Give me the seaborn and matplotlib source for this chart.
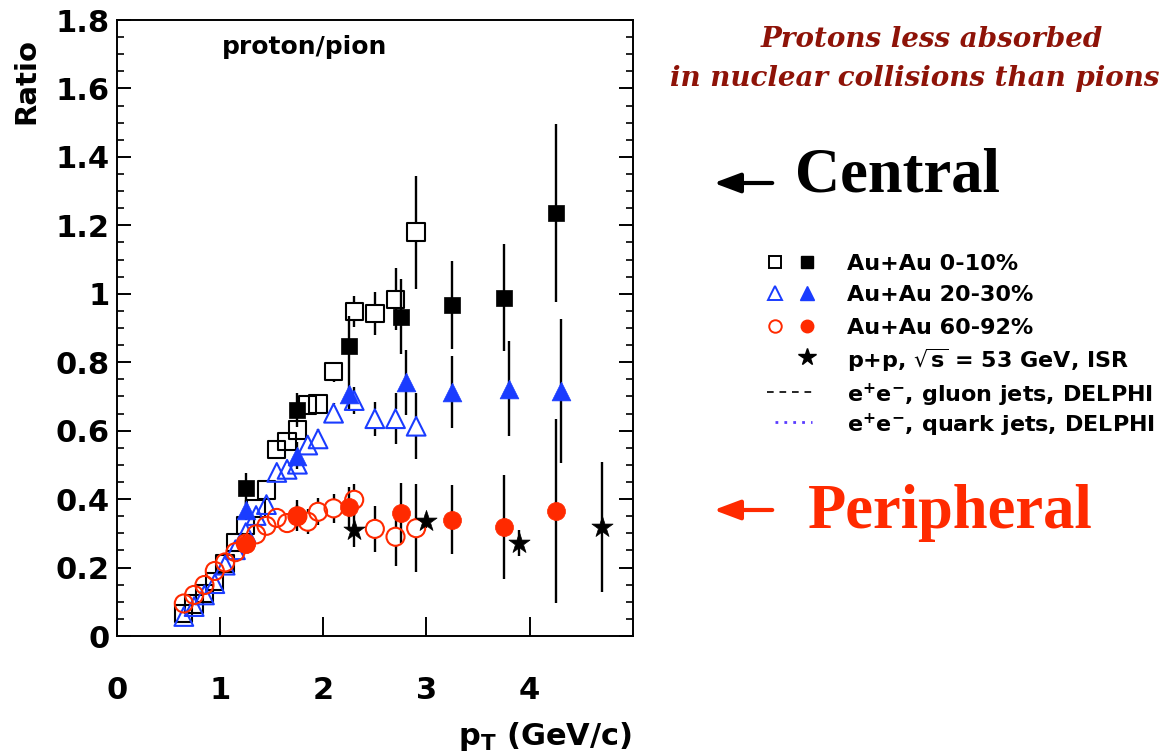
import numpy as np
import pandas as pd
import matplotlib
matplotlib.use("Agg")
import matplotlib.pyplot as plt
import seaborn as sns
from matplotlib.lines import Line2D

# ---------------- data ----------------
pt_open = [0.65, 0.75, 0.85, 0.95, 1.05, 1.15, 1.25, 1.35, 1.45, 1.55,
           1.65, 1.75, 1.85, 1.95, 2.1, 2.3, 2.5, 2.7, 2.9]

c0_open_y = [0.066, 0.094, 0.125, 0.159, 0.212, 0.274, 0.323, 0.373, 0.427, 0.545,
             0.568, 0.602, 0.675, 0.678, 0.772, 0.948, 0.942, 0.984, 1.18]
c0_open_e = [0.008, 0.008, 0.009, 0.010, 0.011, 0.012, 0.014, 0.016, 0.018, 0.022,
             0.024, 0.026, 0.028, 0.030, 0.030, 0.045, 0.063, 0.090, 0.165]

c20_open_y = [0.057, 0.086, 0.12, 0.153, 0.207, 0.252, 0.302, 0.352, 0.384, 0.478,
              0.487, 0.502, 0.558, 0.576, 0.651, 0.688, 0.635, 0.635, 0.613]
c20_open_e = [0.008, 0.008, 0.009, 0.010, 0.011, 0.012, 0.013, 0.015, 0.017, 0.020,
              0.022, 0.024, 0.026, 0.028, 0.030, 0.040, 0.050, 0.075, 0.097]

c60_open_y = [0.095, 0.12, 0.149, 0.19, 0.215, 0.245, 0.27, 0.297, 0.322, 0.345,
              0.33, 0.35, 0.334, 0.363, 0.373, 0.398, 0.313, 0.29, 0.315]
c60_open_e = [0.008, 0.009, 0.010, 0.011, 0.012, 0.014, 0.016, 0.020, 0.022, 0.026,
              0.030, 0.032, 0.036, 0.040, 0.042, 0.046, 0.068, 0.085, 0.128]

pt_fill = [1.25, 1.75, 2.25, 2.75, 3.25, 3.75, 4.25]
c0_fill_y = [0.432, 0.66, 0.846, 0.933, 0.968, 0.988, 1.235]
c0_fill_e = [0.045, 0.05, 0.088, 0.11, 0.128, 0.156, 0.26]

pt_fill_tri = [1.25, 1.75, 2.25, 2.8, 3.25, 3.8, 4.3]
c20_fill_y = [0.368, 0.527, 0.708, 0.741, 0.714, 0.723, 0.716]
c20_fill_e = [0.03, 0.04, 0.05, 0.095, 0.105, 0.14, 0.21]

c60_fill_y = [0.268, 0.352, 0.376, 0.36, 0.34, 0.318, 0.365]
c60_fill_e = [0.025, 0.045, 0.06, 0.087, 0.1, 0.152, 0.27]

pp_x = [2.3, 3.0, 3.9, 4.7]
pp_y = [0.31, 0.337, 0.272, 0.318]
pp_e = [0.05, 0.02, 0.037, 0.19]

y_ticks = [0, 0.2, 0.4, 0.6, 0.8, 1.0, 1.2, 1.4, 1.6, 1.8]
y_tick_labels = ["0", "0.2", "0.4", "0.6", "0.8", "1", "1.2", "1.4", "1.6", "1.8"]
x_ticks = [0, 1, 2, 3, 4]
x_tick_labels = ["0", "1", "2", "3", "4"]

legend_labels = ["Au+Au 0-10%", "Au+Au 20-30%", "Au+Au 60-92%",
                 r"p+p, $\sqrt{s}$ = 53 GeV, ISR",
                 r"e$^{+}$e$^{-}$, gluon jets, DELPHI",
                 r"e$^{+}$e$^{-}$, quark jets, DELPHI"]

# ---------------- style ----------------
sns.set_theme(style="white")
plt.rcParams["font.family"] = ["DejaVu Sans"]
plt.rcParams["mathtext.fontset"] = "dejavusans"
plt.rcParams["mathtext.default"] = "bf"
for k in ["text.color", "axes.labelcolor", "xtick.color", "ytick.color",
          "axes.edgecolor"]:
    plt.rcParams[k] = "black"

BLACK = "#000000"
BLUE = "#1a3cff"
RED = "#ff2a00"
DARKRED = "#8e1308"

W, H = 1162, 756
fig = plt.figure(figsize=(W / 100, H / 100), dpi=100)
fig.patch.set_facecolor("white")
ax = fig.add_axes([116.7 / W, 1 - 636 / H, (633 - 116.7) / W, (636 - 20) / H])
ax.set_facecolor("white")
ax.set_xlim(0, 5)
ax.set_ylim(0, 1.8)

px_per_unit_y = (636 - 20) / 1.8


def errbars(x, y, e, ms_pt, hollow):
    gap = (ms_pt * 100 / 72 / 2) / px_per_unit_y if hollow else 0.0
    for xi, yi, ei in zip(x, y, e):
        if ei > gap:
            ax.vlines(xi, yi + gap, yi + ei, color=BLACK, lw=1.7, zorder=2)
            ax.vlines(xi, yi - ei, yi - gap, color=BLACK, lw=1.7, zorder=2)


def series(x, y, e, marker, color, ms_pt, hollow, lw=1.5):
    df = pd.DataFrame({"pt": x, "ratio": y})
    errbars(x, y, e, ms_pt, hollow)
    if hollow:
        sns.scatterplot(data=df, x="pt", y="ratio", ax=ax, marker=marker,
                        s=ms_pt ** 2, facecolor="none", edgecolor=color,
                        linewidth=lw, zorder=3, legend=False)
    else:
        sns.scatterplot(data=df, x="pt", y="ratio", ax=ax, marker=marker,
                        s=ms_pt ** 2, color=color, edgecolor=color,
                        linewidth=0.5, zorder=4, legend=False)


series(pt_open, c0_open_y, c0_open_e, "s", BLACK, 12.5, True)
series(pt_open, c20_open_y, c20_open_e, "^", BLUE, 13.5, True)
series(pt_open, c60_open_y, c60_open_e, "o", RED, 13.0, True)
series(pt_fill, c0_fill_y, c0_fill_e, "s", BLACK, 12.0, False)
series(pt_fill_tri, c20_fill_y, c20_fill_e, "^", BLUE, 13.5, False)
series(pt_fill, c60_fill_y, c60_fill_e, "o", RED, 13.0, False)
series(pp_x, pp_y, pp_e, "*", BLACK, 16.0, False)

# axes styling
for s in ax.spines.values():
    s.set_visible(True)
    s.set_color(BLACK)
    s.set_linewidth(1.4)
ax.set_xticks(x_ticks)
ax.set_xticklabels(x_tick_labels)
ax.set_yticks(y_ticks)
ax.set_yticklabels(y_tick_labels)
ax.set_yticks(np.arange(0, 1.801, 0.05), minor=True)
ax.tick_params(axis="x", which="major", direction="in", length=14, width=1.4,
               bottom=True, top=False, pad=29, labelsize=22, colors=BLACK)
ax.tick_params(axis="y", which="major", direction="in", length=10, width=1.4,
               left=True, right=True, pad=5, labelsize=22, colors=BLACK)
ax.tick_params(axis="y", which="minor", direction="in", length=5, width=1.2,
               left=True, right=True, colors=BLACK)
for lab in ax.get_xticklabels() + ax.get_yticklabels():
    lab.set_fontweight("bold")
ax.set_xlabel("")
ax.set_ylabel("")
ax.grid(False)

# axis titles
fig.text(632 / W, 1 - 745 / H, r"p$_{\mathbf{T}}$ (GeV/c)", ha="right",
         va="baseline", fontsize=22, fontweight="bold")
fig.text(26 / W, 1 - 38 / H, "Ratio", rotation=90, ha="center", va="top",
         fontsize=21, fontweight="bold")
fig.text(222 / W, 1 - 54 / H, "proton/pion", ha="left", va="baseline",
         fontsize=18, fontweight="bold")

# annotations
fig.text(932 / W, 1 - 47 / H, "Protons less absorbed", ha="center", va="baseline",
         fontsize=20, fontweight="bold", style="italic", family="DejaVu Serif",
         color=DARKRED)
fig.text(1160 / W, 1 - 86 / H, "in nuclear collisions than pions", ha="right",
         va="baseline", fontsize=20, fontweight="bold", style="italic",
         family="DejaVu Serif", color=DARKRED)
fig.text(795 / W, 1 - 192 / H, "Central", ha="left", va="baseline", fontsize=45,
         fontweight="bold", family="Liberation Serif", color=BLACK)
fig.text(808 / W, 1 - 528 / H, "Peripheral", ha="left", va="baseline", fontsize=45,
         fontweight="bold", family="Liberation Serif", color=RED)
for yy, col in [(183, BLACK), (510, RED)]:
    fig.add_artist(matplotlib.patches.FancyArrowPatch(
        (775 / W, 1 - yy / H), (711 / W, 1 - yy / H), transform=fig.transFigure,
        arrowstyle="-|>,head_length=0.8,head_width=0.3", mutation_scale=20,
        lw=3.0, color=col))

# legend (manual)
rows = [262, 293, 326, 357, 392, 422]
open_specs = [("s", BLACK, 8.5), ("^", BLUE, 9.5), ("o", RED, 9.0)]
fill_specs = [("s", BLACK, 8.5), ("^", BLUE, 9.5), ("o", RED, 9.0)]
for i, (mo, co, ms) in enumerate(open_specs):
    yy = 1 - rows[i] / H
    fig.add_artist(Line2D([775 / W], [yy], marker=mo, ms=ms, mfc="white", mec=co,
                          mew=1.4, ls="none", transform=fig.transFigure))
    mf, cf, msf = fill_specs[i]
    fig.add_artist(Line2D([807 / W], [yy], marker=mf, ms=msf, mfc=cf, mec=cf,
                          ls="none", transform=fig.transFigure))
fig.add_artist(Line2D([807 / W], [1 - rows[3] / H], marker="*", ms=13, mfc=BLACK,
                      mec=BLACK, ls="none", transform=fig.transFigure))
fig.add_artist(Line2D([767 / W, 813 / W], [1 - rows[4] / H] * 2, ls=(0, (4, 3.5)),
                      lw=1.2, color=BLACK, transform=fig.transFigure))
fig.add_artist(Line2D([775 / W, 812 / W], [1 - rows[5] / H] * 2, ls=(0, (1, 2.2)),
                      lw=2.0, color="#5a3cff", transform=fig.transFigure))
for i, lab in enumerate(legend_labels):
    fig.text(847 / W, 1 - rows[i] / H, lab, ha="left", va="center_baseline",
             fontsize=16, fontweight="bold")

fig.savefig("out.png", dpi=100, facecolor="white")
